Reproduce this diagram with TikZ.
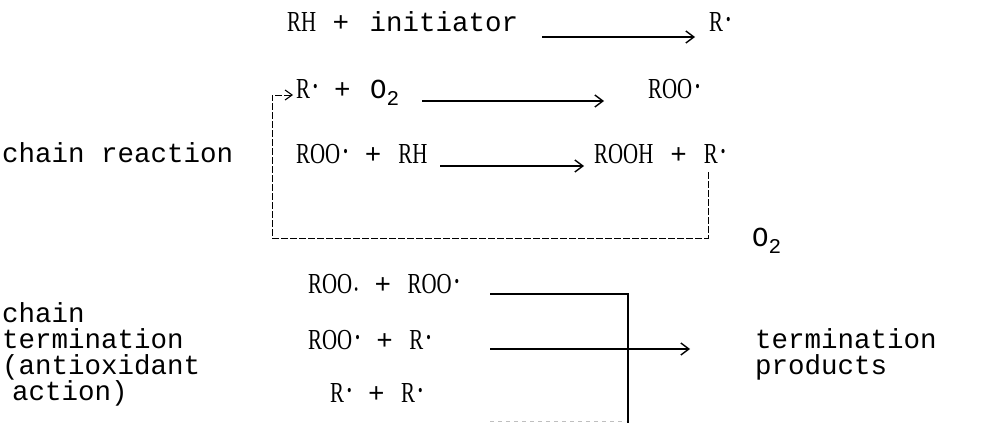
\documentclass[tikz,border=0pt]{standalone}
\usepackage{fontspec}
\setmainfont{Liberation Mono}
\newfontfamily\chemfont[FakeStretch=0.72]{Liberation Serif}
\newcommand\chem{\chemfont\fontsize{29}{29}\selectfont}
\usetikzlibrary{arrows.meta}
\newcommand\rad{\kern3pt\raisebox{6pt}{\chemfont\fontsize{18}{18}\selectfont •}}
\newcommand\lowrad{\kern2pt\raisebox{-1pt}{\chemfont\fontsize{15}{15}\selectfont •}}
\newcommand\subtwo{\raisebox{-7pt}{\fontsize{21}{21}\selectfont 2}}
\newcommand\tplus{\hspace{17pt}+\hspace{17pt}}
\begin{document}
\begin{tikzpicture}[x=1pt,y=-1pt,
  txt/.style={anchor=base west,inner sep=0pt,font=\fontsize{27.5}{26}\selectfont},
  blk/.style={anchor=north west,inner sep=0pt,align=left,font=\fontsize{27.5}{26}\selectfont},
  rxn/.style={-{Straight Barb[length=8pt,width=12pt,line width=1.4pt]},line width=1.3pt},
  cyc/.style={-{Straight Barb[length=7pt,width=10pt,line width=1.1pt]},dash pattern=on 7pt off 2pt,line width=0.9pt},
  bar/.style={line width=1.3pt},
  faint/.style={line width=1pt,black!25,dash pattern=on 4pt off 4pt}]
\useasboundingbox (0,0) rectangle (992,423);
% initiation
\node[txt] (rh) at (287,31) {{\chem RH} + \hspace{4pt}initiator};
\node[txt] (r1) at (709,31) {\chem R\rad};
\coordinate (a1s) at (542,37);
\coordinate (a1e) at (695,37);
\draw[rxn] (a1s) -- (a1e);
% propagation 1
\node[txt] (ro2) at (296,98) {{\chem R\rad} + \hspace{3pt}O\subtwo};
\node[txt] (roo1) at (648,98) {\chem ROO\rad};
\coordinate (a2s) at (422,101);
\coordinate (a2e) at (604,101);
\draw[rxn] (a2s) -- (a2e);
% propagation 2
\node[txt] (cr) at (2,162) {chain reaction};
\node[txt] (roorh) at (296,163) {{\chem ROO\rad}\tplus{\chem RH}};
\node[txt] (rooh) at (594,163) {{\chem ROOH}\tplus{\chem R\rad}};
\coordinate (a3s) at (440,166);
\coordinate (a3e) at (584,166);
\draw[rxn] (a3s) -- (a3e);
% cycle
\coordinate (lp1) at (708,172);
\coordinate (lp3) at (272,238);
\coordinate (lp5) at (293,95);
\draw[cyc] (lp1) |- (lp3) |- (lp5);
\node[txt] (o2) at (752,246) {O\subtwo};
% termination
\node[blk] (ct) at (2,302) {chain\\termination\\(antioxidant\\\hspace*{10pt}action)};
\node[txt] (t1) at (308,293) {{\chem ROO\lowrad} + {\chem ROO\rad}};
\node[txt] (t2) at (308,349) {{\chem ROO\rad} + {\chem R\rad}};
\node[txt] (t3) at (330,402) {{\chem R\rad} + {\chem R\rad}};
\node[blk] (tp) at (755,328) {termination\\products};
\coordinate (t1s) at (490,294);
\coordinate (tj) at (628,294);
\coordinate (tb) at (628,423);
\coordinate (t2s) at (490,349);
\coordinate (t2e) at (690,349);
\coordinate (t3s) at (490,421);
\coordinate (t3e) at (626,421);
\draw[bar] (t1s) -- (tj) -- (tb);
\draw[rxn] (t2s) -- (t2e);
\draw[faint] (t3s) -- (t3e);
\end{tikzpicture}
\end{document}
